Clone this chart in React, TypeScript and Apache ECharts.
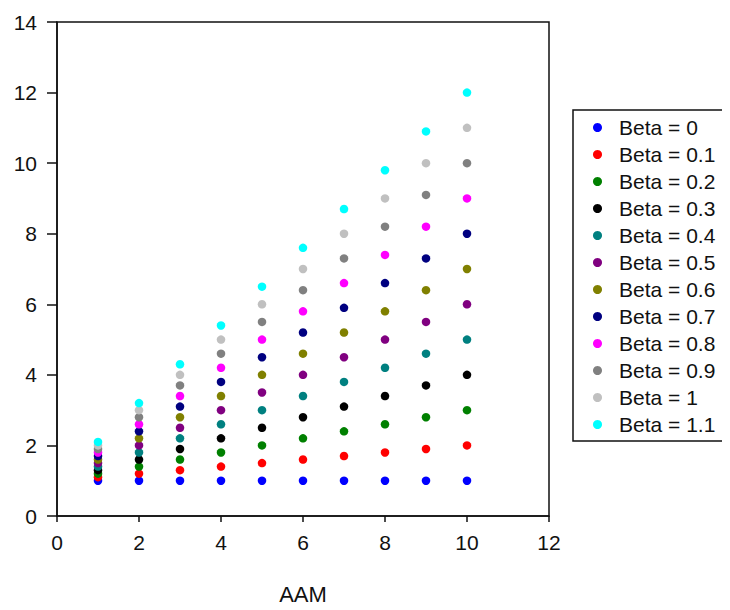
import React, { useEffect, useRef } from "react";
import * as echarts from "echarts";

const xValues = [1, 2, 3, 4, 5, 6, 7, 8, 9, 10];
const seriesNames = [
  "Beta = 0", "Beta = 0.1", "Beta = 0.2", "Beta = 0.3", "Beta = 0.4", "Beta = 0.5",
  "Beta = 0.6", "Beta = 0.7", "Beta = 0.8", "Beta = 0.9", "Beta = 1", "Beta = 1.1",
];
const colors = [
  "#0000FF", "#FF0000", "#008000", "#000000", "#008080", "#800080",
  "#808000", "#000080", "#FF00FF", "#808080", "#C0C0C0", "#00FFFF",
];
const beta00 = [1, 1, 1, 1, 1, 1, 1, 1, 1, 1];
const beta01 = [1.1, 1.2, 1.3, 1.4, 1.5, 1.6, 1.7, 1.8, 1.9, 2.0];
const beta02 = [1.2, 1.4, 1.6, 1.8, 2.0, 2.2, 2.4, 2.6, 2.8, 3.0];
const beta03 = [1.3, 1.6, 1.9, 2.2, 2.5, 2.8, 3.1, 3.4, 3.7, 4.0];
const beta04 = [1.4, 1.8, 2.2, 2.6, 3.0, 3.4, 3.8, 4.2, 4.6, 5.0];
const beta05 = [1.5, 2.0, 2.5, 3.0, 3.5, 4.0, 4.5, 5.0, 5.5, 6.0];
const beta06 = [1.6, 2.2, 2.8, 3.4, 4.0, 4.6, 5.2, 5.8, 6.4, 7.0];
const beta07 = [1.7, 2.4, 3.1, 3.8, 4.5, 5.2, 5.9, 6.6, 7.3, 8.0];
const beta08 = [1.8, 2.6, 3.4, 4.2, 5.0, 5.8, 6.6, 7.4, 8.2, 9.0];
const beta09 = [1.9, 2.8, 3.7, 4.6, 5.5, 6.4, 7.3, 8.2, 9.1, 10.0];
const beta10 = [2.0, 3.0, 4.0, 5.0, 6.0, 7.0, 8.0, 9.0, 10.0, 11.0];
const beta11 = [2.1, 3.2, 4.3, 5.4, 6.5, 7.6, 8.7, 9.8, 10.9, 12.0];
const allSeries = [beta00, beta01, beta02, beta03, beta04, beta05, beta06, beta07, beta08, beta09, beta10, beta11];

const FONT = "Liberation Sans, Arial, sans-serif";

export default function App() {
  const ref = useRef<HTMLDivElement>(null);
  useEffect(() => {
    if (!ref.current) return;
    const chart = echarts.init(ref.current, undefined, { renderer: "svg" });
    chart.setOption({
      animation: false,
      backgroundColor: "#fff",
      grid: {
        left: 57, right: 181, top: 22, bottom: 93,
        show: true, borderColor: "#111", borderWidth: 1.5, backgroundColor: "transparent",
      },
      legend: {
        orient: "vertical",
        left: 573,
        top: 110,
        padding: [7, 30, 6, 20],
        borderColor: "#111",
        borderWidth: 1.5,
        itemWidth: 9,
        itemHeight: 9,
        itemGap: 6,
        icon: "circle",
        textStyle: { fontFamily: FONT, fontSize: 21, color: "#111", lineHeight: 21, padding: [0, 0, 0, 12] },
        data: seriesNames,
      },
      xAxis: {
        type: "value",
        min: 0, max: 12, interval: 2,
        name: "AAM",
        nameLocation: "middle",
        nameGap: 67,
        nameTextStyle: { fontFamily: FONT, fontSize: 22, color: "#111" },
        axisLine: { show: true, onZero: false, lineStyle: { color: "#111", width: 1.5 } },
        axisTick: { show: true, length: 6, lineStyle: { color: "#111", width: 1.5 } },
        axisLabel: { fontFamily: FONT, fontSize: 21, color: "#111", margin: 16 },
        splitLine: { show: false },
      },
      yAxis: {
        type: "value",
        min: 0, max: 14, interval: 2,
        axisLine: { show: true, lineStyle: { color: "#111", width: 1.5 } },
        axisTick: { show: true, length: 10, lineStyle: { color: "#111", width: 1.5 } },
        axisLabel: { fontFamily: FONT, fontSize: 21, color: "#111", margin: 20 },
        splitLine: { show: false },
      },
      series: allSeries.map((vals, i) => ({
        type: "scatter",
        name: seriesNames[i],
        symbol: "circle",
        symbolSize: 8.5,
        itemStyle: { color: colors[i], opacity: 1 },
        data: vals.map((v, j) => [xValues[j], v]),
      })),
    });
    return () => chart.dispose();
  }, []);
  return <div ref={ref} style={{ width: 730, height: 610, margin: -8 }} />;
}
